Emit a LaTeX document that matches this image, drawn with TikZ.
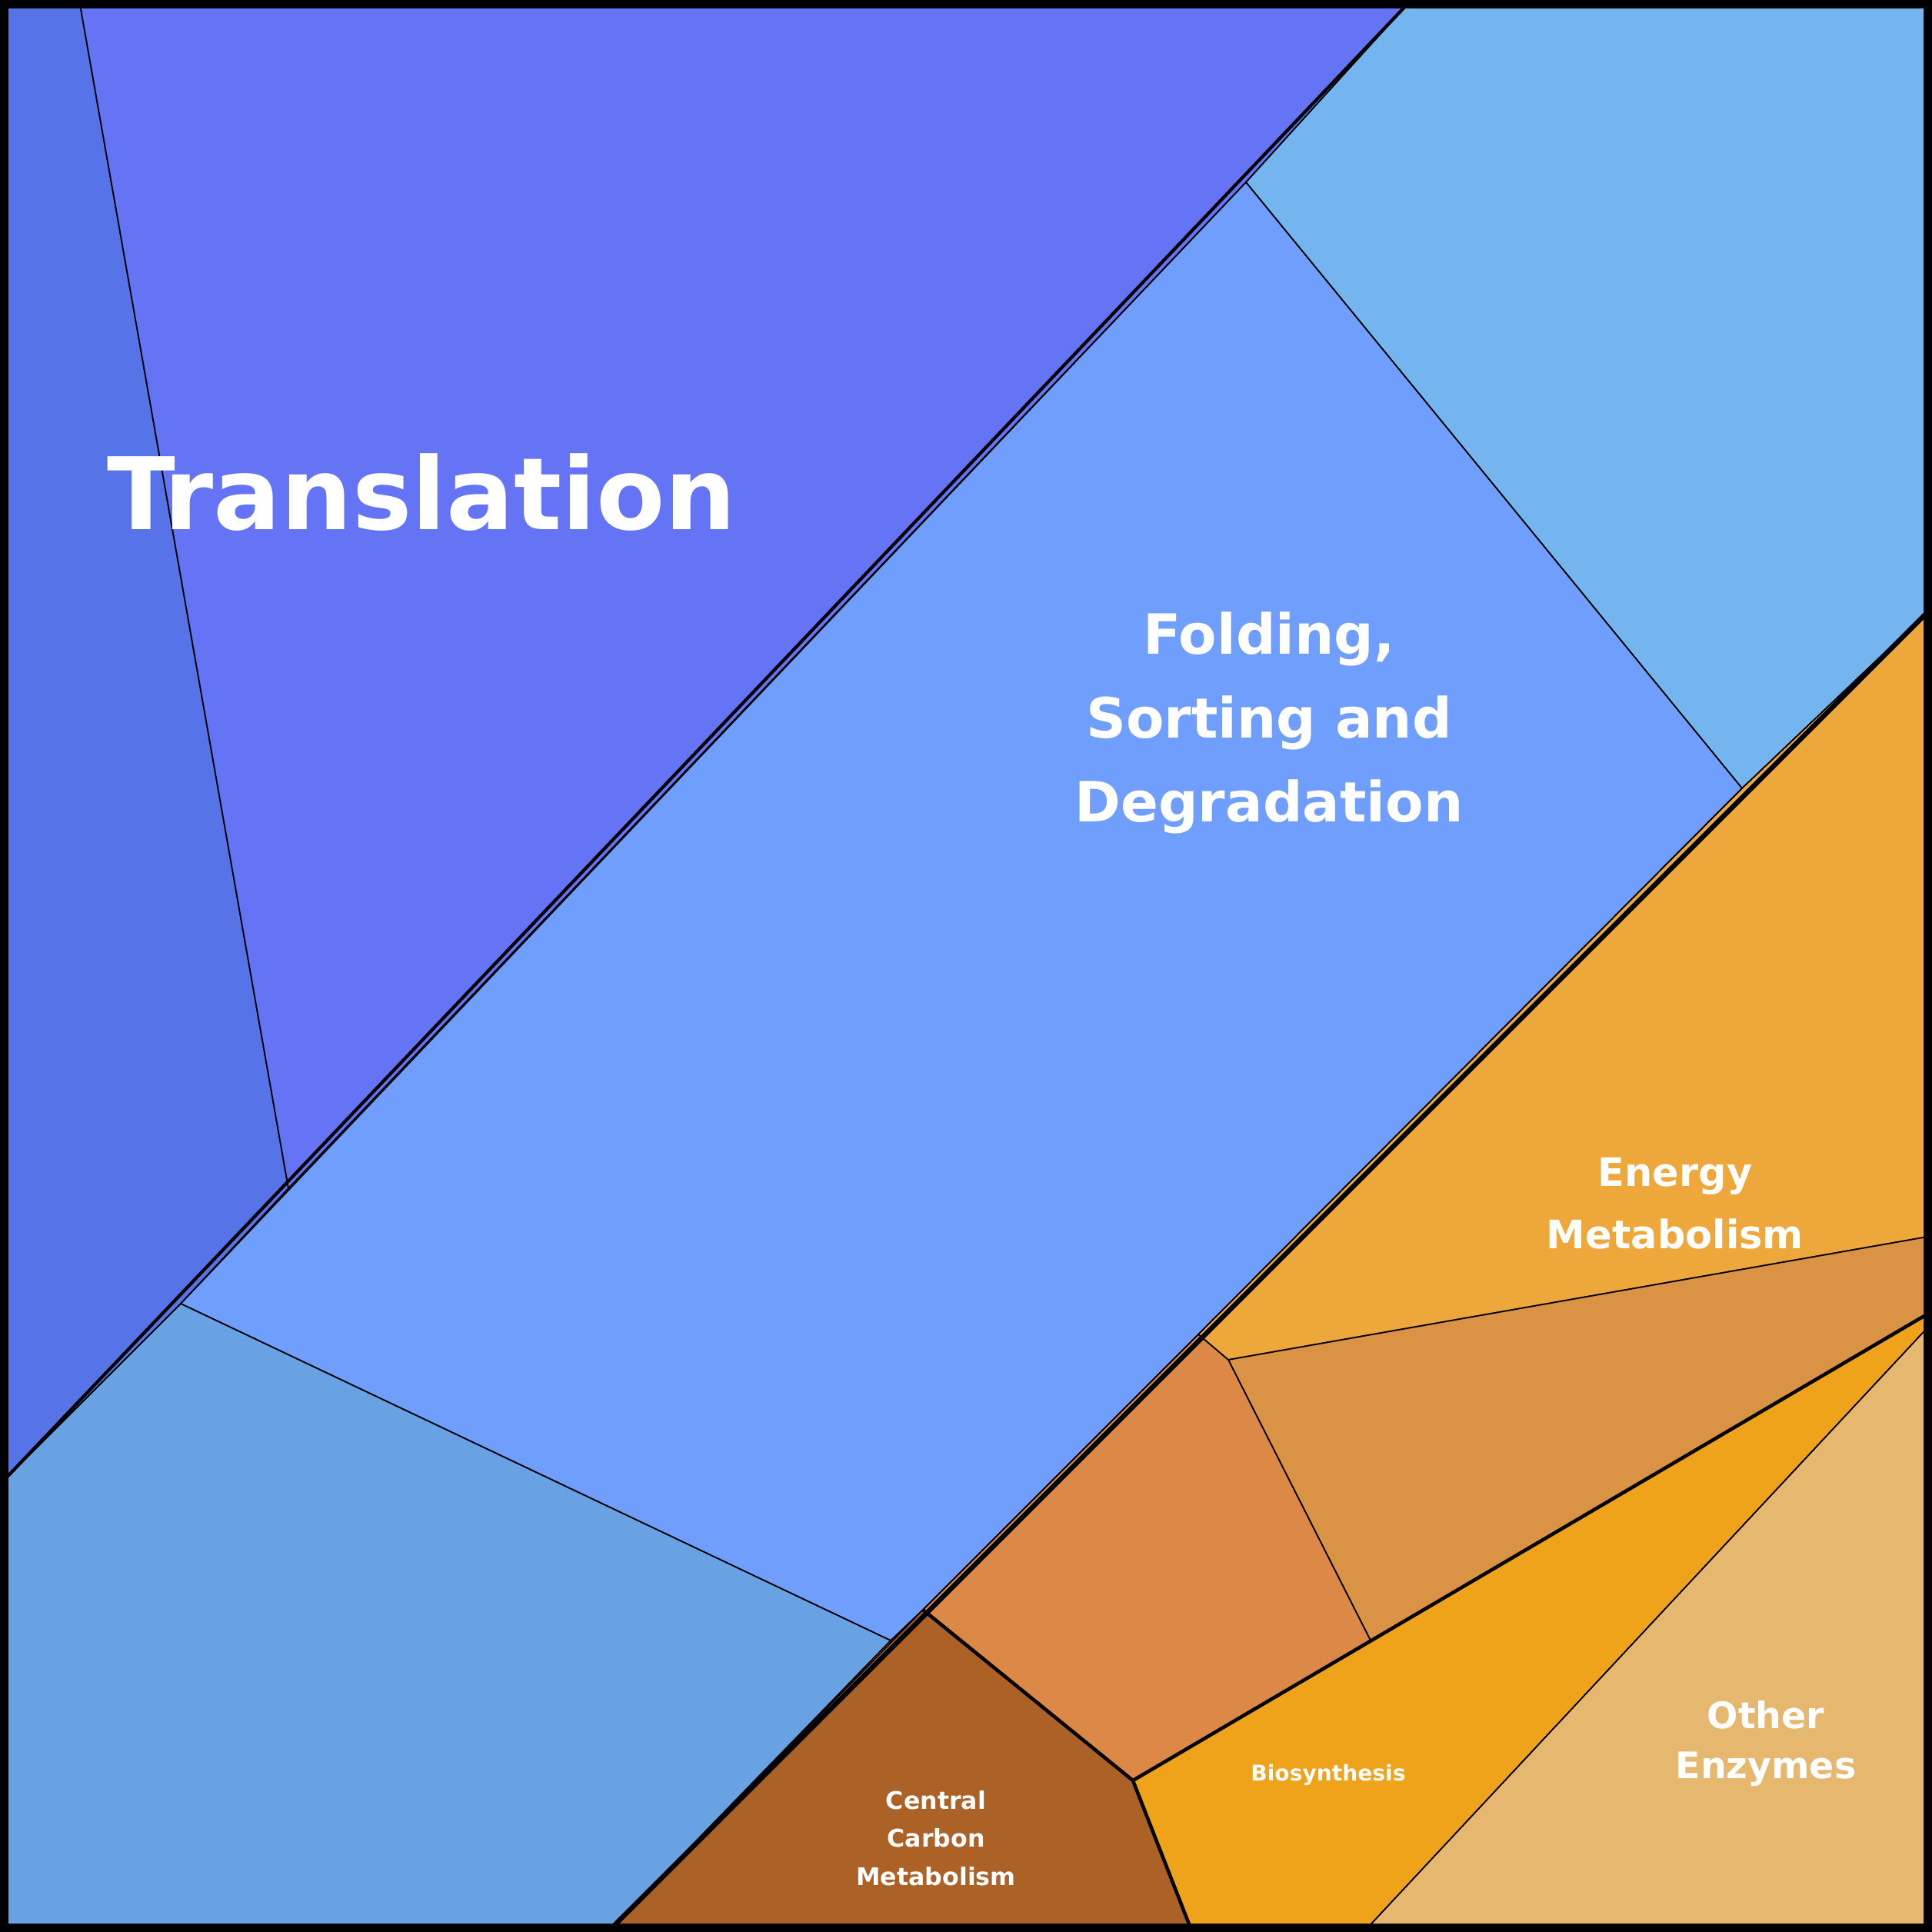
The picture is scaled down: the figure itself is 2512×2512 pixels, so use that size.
\documentclass[tikz,border=0pt]{standalone}
\usepackage{fontspec}
\setmainfont{DejaVu Sans}
\begin{document}
\begin{tikzpicture}[x=0.01cm,y=-0.01cm,
 cell/.style={draw=black,line width=0.5pt},
 lab/.style={text=white,font=\bfseries,align=center}]
\useasboundingbox (0,0) rectangle (2512,2512);
\fill[cell,fill={rgb,255:red,87;green,115;blue,232}] (0,0)--(103,0)--(375,1545)--(235,1695)--(0,1930)--cycle;
\fill[cell,fill={rgb,255:red,100;green,116;blue,245}] (103,0)--(1835,0)--(1620,237)--(375,1545)--cycle;
\fill[cell,fill={rgb,255:red,116;green,180;blue,239}] (1835,0)--(2512,0)--(2512,790)--(2265,1025)--(1620,237)--cycle;
\fill[cell,fill={rgb,255:red,111;green,158;blue,252}] (1620,237)--(2265,1025)--(1558,1735)--(1200,2093)--(1158,2133)--(235,1695)--cycle;
\fill[cell,fill={rgb,255:red,104;green,162;blue,226}] (0,1930)--(235,1695)--(1158,2133)--(790,2512)--(0,2512)--cycle;
\fill[cell,fill={rgb,255:red,237;green,167;blue,59}] (2265,1025)--(2512,790)--(2512,1607)--(1597,1768)--(1558,1735)--cycle;
\fill[cell,fill={rgb,255:red,218;green,147;blue,68}] (1597,1768)--(2512,1607)--(2512,1705)--(1782,2133)--cycle;
\fill[cell,fill={rgb,255:red,220;green,137;blue,71}] (1558,1735)--(1597,1768)--(1782,2133)--(1473,2315)--(1200,2093)--cycle;
\fill[cell,fill={rgb,255:red,172;green,97;blue,39}] (1200,2093)--(1473,2315)--(1550,2512)--(790,2512)--cycle;
\fill[cell,fill={rgb,255:red,238;green,163;blue,27}] (1473,2315)--(2512,1705)--(2512,1720)--(1773,2512)--(1550,2512)--cycle;
\fill[cell,fill={rgb,255:red,230;green,184;blue,111}] (2512,1720)--(2512,2512)--(1773,2512)--cycle;
\draw[line width=1.2pt] (1835,0)--(0,1930);
\draw[line width=1.8pt] (2512,790)--(790,2512);
\draw[line width=1.3pt] (1473,2315)--(2512,1705);
\draw[line width=1.3pt] (1200,2093)--(1473,2315)--(1550,2512);
\draw[line width=4pt] (4,4) rectangle (2508,2508);
\node[lab,font=\bfseries\fontsize{37}{44}\selectfont] (t) at (548,640) {Translation};
\node[lab,font=\bfseries\fontsize{20.5}{31}\selectfont] (f) at (1650,940) {Folding,\\Sorting and\\Degradation};
\node[lab,font=\bfseries\fontsize{14.5}{23}\selectfont] (e) at (2178,1565) {Energy\\Metabolism};
\node[lab,font=\bfseries\fontsize{13.5}{18.5}\selectfont] (o) at (2296,2267) {Other\\Enzymes};
\node[lab,font=\bfseries\fontsize{9}{14}\selectfont] (c) at (1217,2390) {Central\\Carbon\\Metabolism};
\node[lab,font=\bfseries\fontsize{8}{10}\selectfont] (b) at (1727,2308) {Biosynthesis};
\end{tikzpicture}
\end{document}
